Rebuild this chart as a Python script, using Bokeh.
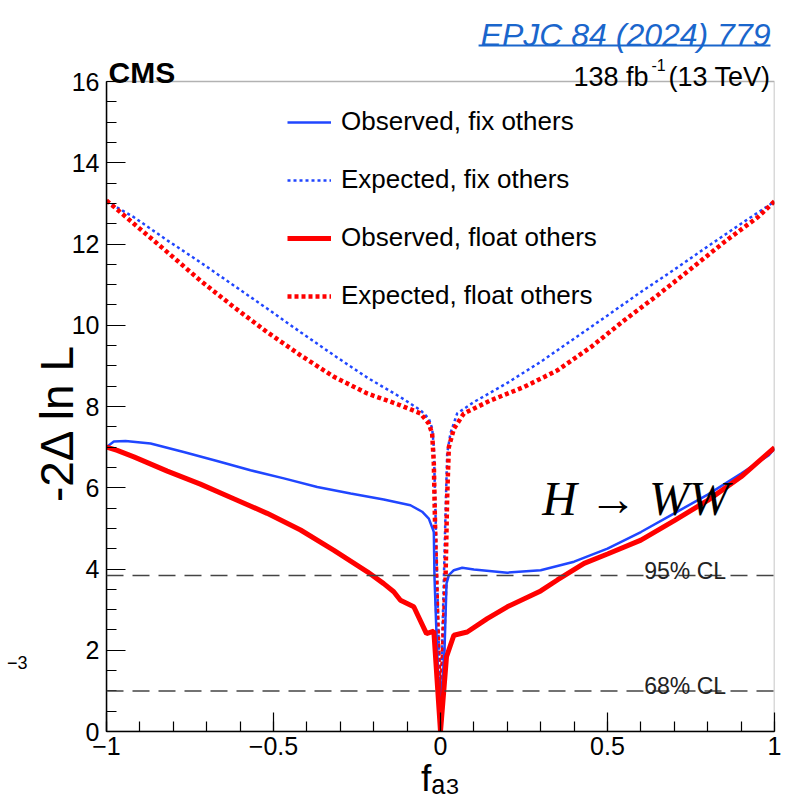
from bokeh.plotting import figure
from bokeh.models import (Range1d, SingleIntervalTicker, FixedTicker, CustomJSTickFormatter,
                          Label, Legend, LegendItem, Span, BoxAnnotation, LinearAxis)
from bokeh.embed import file_html
from bokeh.resources import INLINE

# ---------------- data ----------------
obs_fix_x = [-1.0, -0.978, -0.943, -0.868, -0.769, -0.669, -0.569, -0.469, -0.369, -0.269,
             -0.170, -0.090, -0.055, -0.035, -0.022, -0.020, -0.018, -0.012, -0.005, 0.002,
             0.005, 0.012, 0.018, 0.025, 0.040, 0.065, 0.10, 0.20, 0.30, 0.40, 0.50, 0.60,
             0.70, 0.80, 0.90, 0.983, 1.0]
obs_fix_y = [7.00, 7.14, 7.15, 7.09, 6.88, 6.66, 6.43, 6.23, 6.02, 5.86,
             5.71, 5.57, 5.41, 5.24, 4.96, 4.91, 3.80, 2.40, 1.00, 0.20,
             1.10, 2.00, 3.64, 3.85, 3.97, 4.03, 3.99, 3.91, 3.97, 4.18, 4.50, 4.91,
             5.37, 5.83, 6.35, 6.80, 6.96]

exp_fix_x = [-1.0, -0.918, -0.818, -0.719, -0.619, -0.519, -0.419, -0.319, -0.219, -0.120,
             -0.060, -0.035, -0.025, -0.020, -0.015, -0.010, -0.005, -0.002, 0.0, 0.002,
             0.005, 0.010, 0.015, 0.020, 0.030, 0.050, 0.10, 0.20, 0.30, 0.40, 0.50, 0.60,
             0.70, 0.80, 0.90, 0.99, 1.0]
exp_fix_y = [13.05, 12.66, 12.09, 11.55, 10.98, 10.41, 9.83, 9.26, 8.71, 8.23,
             7.91, 7.70, 7.46, 7.00, 5.37, 3.73, 2.09, 1.10, 0.0, 1.10,
             2.20, 3.73, 5.37, 6.84, 7.35, 7.83, 8.11, 8.58, 9.10, 9.67, 10.24, 10.82,
             11.37, 11.94, 12.50, 12.99, 13.05]

obs_float_x = [-1.0, -0.968, -0.918, -0.818, -0.719, -0.619, -0.519, -0.419, -0.319, -0.219,
               -0.170, -0.140, -0.120, -0.080, -0.042, -0.020, 0.0, 0.018, 0.040, 0.080,
               0.140, 0.200, 0.300, 0.350, 0.430, 0.500, 0.600, 0.700, 0.800, 0.900, 1.0]
obs_float_y = [7.00, 6.92, 6.76, 6.41, 6.09, 5.73, 5.37, 4.96, 4.46, 3.93,
               3.64, 3.44, 3.23, 3.07, 2.41, 2.47, 0.0, 1.84, 2.37, 2.45,
               2.78, 3.07, 3.46, 3.73, 4.14, 4.37, 4.71, 5.19, 5.69, 6.27, 6.99]

exp_float_x = [-1.0, -0.918, -0.818, -0.719, -0.619, -0.519, -0.419, -0.319, -0.219, -0.120,
               -0.060, -0.035, -0.025, -0.020, -0.015, -0.010, -0.005, 0.0, 0.008, 0.015,
               0.020, 0.025, 0.040, 0.070, 0.15, 0.25, 0.35, 0.45, 0.55, 0.65, 0.75, 0.85,
               0.95, 1.0]
exp_float_y = [13.07, 12.50, 11.80, 11.10, 10.45, 9.83, 9.26, 8.73, 8.32, 8.03,
               7.83, 7.58, 7.33, 6.60, 4.55, 2.90, 1.60, 0.0, 2.10, 3.73,
               5.77, 7.00, 7.45, 7.83, 8.15, 8.48, 8.89, 9.46, 10.12, 10.74, 11.39, 12.05,
               12.66, 13.05]

series_labels = ["Observed, fix others", "Expected, fix others",
                 "Observed, float others", "Expected, float others"]
cl_levels = [3.84, 1.0]
cl_labels = ["95% CL", "68% CL"]
x_min, x_max = -1.0, 1.0
y_min, y_max = 0.0, 16.0
y_title = "-2\u0394 ln L"
x_title = "f\u2090\u2083"

# ---------------- layout constants ----------------
FONT = "Liberation Sans"
W, H = 787, 806
LEFT, RIGHT, BOTTOM = 106, 13, 75
FRAME_H = H - BOTTOM           # frame reaches the canvas top; header texts live inside it
AXIS_H = 650                   # pixel height of the 0..16 region
y_top = y_max * FRAME_H / AXIS_H

p = figure(width=W, height=H, output_backend="svg", toolbar_location=None, title=None,
           x_range=Range1d(x_min, x_max), y_range=Range1d(y_min, y_top))
p.min_border_left = LEFT
p.min_border_right = RIGHT
p.min_border_top = 0
p.min_border_bottom = BOTTOM
p.background_fill_color = "white"
p.border_fill_color = "white"
p.outline_line_color = None
p.xgrid.visible = False
p.ygrid.visible = False

p.xaxis.ticker = SingleIntervalTicker(interval=0.5, num_minor_ticks=5)
p.yaxis.ticker = SingleIntervalTicker(interval=2, num_minor_ticks=4)
p.yaxis.bounds = (y_min, y_max)
fmt = CustomJSTickFormatter(code="""
const v = Math.round(tick*10)/10;
return v < 0 ? "\\u2212" + (-v) : "" + v;
""")
p.xaxis.formatter = fmt
p.yaxis.formatter = fmt
for ax in (p.xaxis[0], p.yaxis[0]):
    ax.major_tick_in = 19
    ax.major_tick_out = 0
    ax.minor_tick_in = 10
    ax.minor_tick_out = 0
    ax.major_tick_line_color = "black"
    ax.minor_tick_line_color = "black"
    ax.major_tick_line_width = 1.2
    ax.minor_tick_line_width = 1.2
    ax.axis_line_color = "black"
    ax.axis_line_width = 1.5
    ax.major_label_text_font = FONT
    ax.major_label_text_font_size = "25px"
    ax.major_label_text_color = "black"
    ax.axis_label_text_font = FONT
    ax.axis_label_text_font_style = "normal"
    ax.axis_label_text_color = "black"
    ax.axis_label_standoff = 0
p.xaxis.major_label_standoff = 5
p.yaxis.major_label_standoff = 7
p.xaxis.axis_label = x_title
p.xaxis.axis_label_text_font_size = "37px"


def label_axis(tick, text, size, standoff, orientation="horizontal"):
    """A left axis that carries only one text, placed at a data height."""
    return LinearAxis(ticker=FixedTicker(ticks=[tick]),
                      formatter=CustomJSTickFormatter(code='return %r;' % text),
                      axis_line_color=None, major_tick_line_color=None,
                      minor_tick_line_color=None, major_tick_in=0, major_tick_out=0,
                      minor_tick_in=0, minor_tick_out=0, major_label_standoff=standoff,
                      major_label_orientation=orientation,
                      major_label_text_font=FONT, major_label_text_font_size=size,
                      major_label_text_color="black")


# y-axis title, centred where the reference has it
p.add_layout(label_axis(7.6, y_title, "46px", -14, "parallel"), "left")
# stray exponent text at the far left
p.add_layout(label_axis(1.70, "\u22123", "18px", 0), "left")

# plot box
p.add_layout(BoxAnnotation(left=x_min, right=x_max, bottom=y_min, top=y_max,
                           fill_alpha=0, line_color="black", line_width=1.5))

BLUE = "#2046ff"
RED = "#ff0000"

r_expfix = p.line(exp_fix_x, exp_fix_y, line_color=BLUE, line_width=2.5, line_dash="3 3")
r_expfloat = p.line(exp_float_x, exp_float_y, line_color=RED, line_width=4.5, line_dash="4 3")
r_obsfix = p.line(obs_fix_x, obs_fix_y, line_color=BLUE, line_width=2.5)
r_obsfloat = p.line(obs_float_x, obs_float_y, line_color=RED, line_width=5)

for lvl, txt in zip(cl_levels, cl_labels):
    p.add_layout(Span(location=lvl, dimension="width", line_color="#444444",
                      line_width=1.5, line_dash="17 9"))
    p.add_layout(Label(x=0.61, y=lvl, y_offset=5, text=txt, text_font=FONT,
                       text_font_size="23px", text_color="#222222",
                       text_baseline="alphabetic"))

legend = Legend(items=[
    LegendItem(label=series_labels[0], renderers=[r_obsfix]),
    LegendItem(label=series_labels[1], renderers=[r_expfix]),
    LegendItem(label=series_labels[2], renderers=[r_obsfloat]),
    LegendItem(label=series_labels[3], renderers=[r_expfloat]),
], location=(181, 420))
legend.glyph_width = 44
legend.glyph_height = 30
legend.label_height = 30
legend.spacing = 27
legend.label_standoff = 10
legend.padding = 0
legend.margin = 0
legend.border_line_color = None
legend.background_fill_alpha = 0
legend.label_text_font = FONT
legend.label_text_font_size = "26px"
legend.label_text_color = "black"
p.add_layout(legend)

# H -> WW
p.add_layout(Label(x=0.305, y=5.74, text="H \u2192 WW", text_font="Liberation Serif",
                   text_font_style="italic", text_font_size="48px", text_color="black",
                   text_baseline="alphabetic"))

# header texts (inside the frame, above y = 16)
p.add_layout(Label(x=x_min, y=y_max, x_offset=2, y_offset=9, text="CMS", text_font=FONT,
                   text_font_style="bold", text_font_size="30px", text_color="black",
                   text_baseline="alphabetic"))
p.add_layout(Label(x=x_max, y=y_max, x_offset=-201, y_offset=5, text="138 fb", text_font=FONT,
                   text_font_size="27px", text_color="black", text_baseline="alphabetic"))
p.add_layout(Label(x=x_max, y=y_max, x_offset=-123, y_offset=17, text="-1", text_font=FONT,
                   text_font_size="16px", text_color="black", text_baseline="alphabetic"))
p.add_layout(Label(x=x_max, y=y_max, x_offset=-4, y_offset=5, text="(13 TeV)", text_font=FONT,
                   text_font_size="27px", text_color="black", text_align="right",
                   text_baseline="alphabetic"))
p.add_layout(Label(x=x_max, y=y_max, x_offset=-4, y_offset=47, text="EPJC 84 (2024) 779",
                   text_font=FONT, text_font_style="italic", text_font_size="32px",
                   text_color="#1a66cc", text_align="right", text_baseline="alphabetic"))
p.add_layout(BoxAnnotation(left=0.114, right=0.988, bottom=16.86, top=16.91,
                           fill_color="#1a66cc", fill_alpha=1.0, line_color=None))

open("out.html", "w").write(file_html(p, INLINE))
